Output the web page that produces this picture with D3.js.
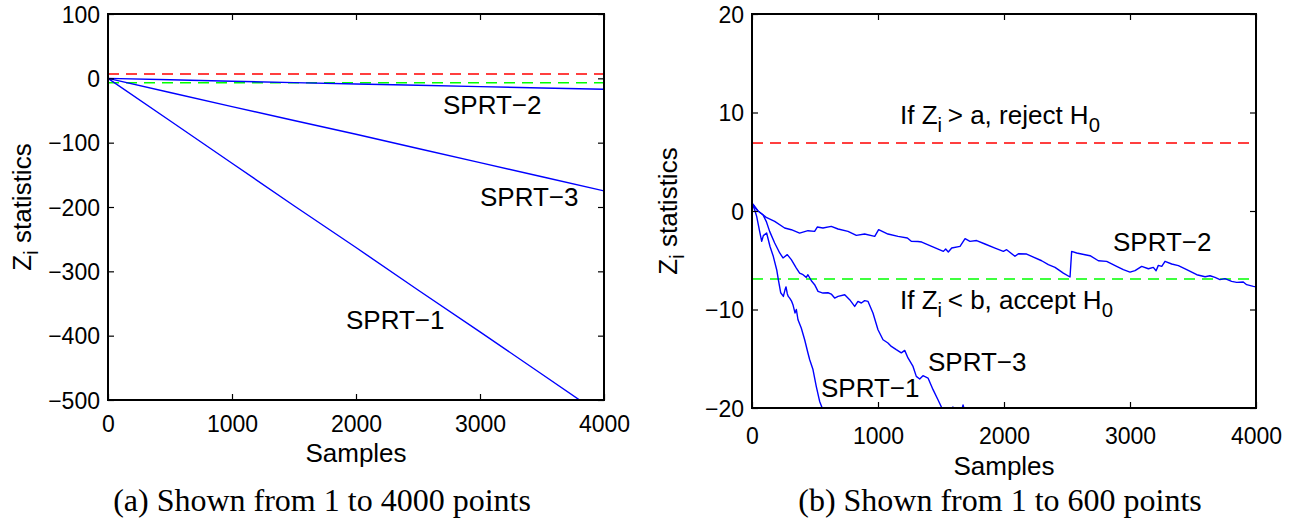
<!DOCTYPE html>
<html>
<head>
<meta charset="utf-8">
<script src="https://cdn.jsdelivr.net/npm/d3@7/dist/d3.min.js"></script>
<style>
  html, body { margin: 0; padding: 0; background: #fff; }
  svg { display: block; }
  text { font-family: "Liberation Sans", Arial, Helvetica, sans-serif; fill: #000; }
  .cap { font-family: "Liberation Serif", "Times New Roman", serif; }
</style>
</head>
<body>
<svg id="chart" width="1301" height="525"></svg>
<script>
// ---------------- data ----------------
const xTicks = [0, 1000, 2000, 3000, 4000];
const yTicksA = [100, 0, -100, -200, -300, -400, -500];
const yTicksB = [20, 10, 0, -10, -20];
const thresholdA = 6.9;   // a
const thresholdB = -6.9;  // b

// panel (a): 1..4000 points
const fullSamples = [0, 500, 1000, 1500, 2000, 2500, 3000, 3500, 4000];
const fullSPRT1 = [0, -66, -132, -198, -263, -329, -394, -460, -526];
const fullSPRT2 = [0, -2.3, -4.5, -6.6, -8.7, -10.8, -12.9, -15, -17];
const fullSPRT3 = [0, -22, -44, -65.5, -87, -109, -131, -153, -175];

// panel (b): zoomed view
const zoomSamples1 = [0,21,37,63,77,90,116,143,169,196,209,228,249,262,270,280,288,299,315,325,341,352,365,391,418,444,458,484,510,537,563,600];
const zoomSPRT1 = [0.8,0.13,-0.55,-2.23,-3.08,-2.5,-2.23,-3.6,-4.6,-5.96,-6.97,-8.3,-8.67,-8.0,-7.7,-8.4,-8.67,-8.84,-9.18,-9.51,-10.35,-10.0,-11.04,-11.88,-13.07,-14.42,-15.1,-16.1,-17.8,-19.33,-20.2,-21.5];

const zoomSamples2 = [0,20,48,113,180,259,312,378,444,497,518,563,629,683,762,828,894,974,1005,1079,1159,1233,1264,1317,1347,1426,1519,1537,1558,1585,1651,1691,1730,1783,1849,1929,1995,2021,2087,2114,2180,2220,2299,2352,2405,2471,2524,2537,2577,2643,2683,2749,2815,2894,2947,3000,3040,3093,3146,3185,3207,3225,3252,3278,3331,3384,3450,3530,3596,3635,3675,3714,3754,3807,3847,3899,3926,3979,4000];
const zoomSPRT2 = [0.8,0.5,0,-0.65,-1.05,-1.73,-1.9,-2.24,-2.0,-2.07,-1.63,-1.73,-1.56,-1.83,-2.07,-2.47,-2.34,-2.58,-1.9,-2.34,-2.58,-2.74,-3.08,-3.1,-3.15,-3.59,-4.1,-3.86,-4.17,-3.76,-3.59,-2.81,-3.08,-3.0,-3.35,-3.76,-4.1,-3.93,-4.6,-4.34,-4.37,-4.6,-5.05,-5.45,-5.72,-6.3,-6.7,-4.1,-4.26,-4.44,-4.54,-5.05,-5.11,-5.62,-5.96,-6.2,-6.06,-5.62,-5.86,-5.72,-6.06,-5.52,-5.62,-5.11,-5.38,-5.55,-5.96,-6.47,-6.67,-6.57,-6.74,-6.97,-6.87,-7.14,-7.25,-7.21,-7.48,-7.65,-7.7];

const zoomSamples3 = [0,20,48,87,113,140,180,220,246,280,312,352,378,405,431,444,471,497,524,563,603,629,656,683,736,775,815,841,868,894,921,960,1000,1040,1079,1106,1145,1185,1212,1238,1278,1304,1331,1357,1397,1437,1476,1516,1555,1595,1620,1660,1675,1700,1760];
const zoomSPRT3 = [0.8,0.4,0,-0.38,-1.05,-2.07,-3.25,-4.26,-4.77,-4.43,-4.94,-5.79,-6.3,-6.47,-6.74,-6.47,-7.08,-7.48,-8.16,-8.33,-8.3,-8.43,-8.84,-8.67,-8.5,-9.0,-9.69,-9.18,-9.34,-9.1,-9.18,-10.36,-12.05,-13.07,-13.4,-13.75,-14.08,-14.4,-14.15,-14.92,-15.78,-16.79,-17.06,-16.72,-16.96,-18.14,-19.16,-20.25,-20.6,-19.9,-20.5,-20.4,-19.7,-20.8,-21.6];

// ---------------- drawing ----------------
const svg = d3.select("#chart");
const blue = "#0000ff", red = "#ff0000", green = "#00ff00";
const defs = svg.append("defs");

function panel(cfg) {
  const x = d3.scaleLinear().domain([0, 4000]).range([cfg.x0, cfg.x1]);
  const y = d3.scaleLinear().domain(cfg.yDomain).range([cfg.yBot, cfg.yTop]);
  const g = svg.append("g");
  const clipId = "clip" + cfg.id;
  defs.append("clipPath").attr("id", clipId)
    .append("rect").attr("x", cfg.x0).attr("y", cfg.yTop)
    .attr("width", cfg.x1 - cfg.x0).attr("height", cfg.yBot - cfg.yTop);
  const plot = g.append("g").attr("clip-path", `url(#${clipId})`);

  // thresholds
  [[thresholdA, red], [thresholdB, green]].forEach(([v, c]) => {
    plot.append("line")
      .attr("x1", x(0)).attr("x2", x(4000)).attr("y1", y(v)).attr("y2", y(v))
      .attr("stroke", c).attr("stroke-width", 1.5).attr("stroke-dasharray", "11,7");
  });

  const line = d3.line().x(d => x(d[0])).y(d => y(d[1]));
  cfg.series.forEach(([xs, ys]) => {
    plot.append("path").datum(xs.map((s, i) => [s, ys[i]]))
      .attr("d", line).attr("fill", "none").attr("stroke", blue)
      .attr("stroke-width", 1.4).attr("stroke-linejoin", "round");
  });

  // axes (MATLAB style ticks inside, labels outside)
  const tl = 6;
  const fmt = d => (d < 0 ? "\u2212" + Math.abs(d) : String(d));
  const axB = d3.axisBottom(x).tickValues(xTicks).tickSize(-tl).tickPadding(cfg.xPad).tickFormat(d3.format("d"));
  const axT = d3.axisTop(x).tickValues(xTicks).tickSize(-tl).tickFormat("");
  const axL = d3.axisLeft(y).tickValues(cfg.yTicks).tickSize(-tl).tickPadding(8).tickFormat(fmt);
  const axR = d3.axisRight(y).tickValues(cfg.yTicks).tickSize(-tl).tickFormat("");

  const styleAxis = (sel, dy) => {
    sel.select(".domain").remove();
    sel.selectAll(".tick line").attr("stroke", "#000").attr("stroke-width", 1.2);
    sel.selectAll("text").style("font-family", '"Liberation Sans", Arial, sans-serif')
      .style("font-size", "23px").attr("fill", "#000").attr("dy", dy);
  };
  g.append("g").attr("transform", `translate(0,${cfg.yBot})`).call(axB).call(styleAxis, "0.75em");
  g.append("g").attr("transform", `translate(0,${cfg.yTop})`).call(axT).call(styleAxis, null);
  g.append("g").attr("transform", `translate(${cfg.x0},0)`).call(axL).call(styleAxis, "0.36em");
  g.append("g").attr("transform", `translate(${cfg.x1},0)`).call(axR).call(styleAxis, null);

  // box
  g.append("rect").attr("x", cfg.x0).attr("y", cfg.yTop)
    .attr("width", cfg.x1 - cfg.x0).attr("height", cfg.yBot - cfg.yTop)
    .attr("fill", "none").attr("stroke", "#000").attr("stroke-width", 2);

  // axis titles
  g.append("text").attr("x", (cfg.x0 + cfg.x1) / 2).attr("y", cfg.xTitleY)
    .attr("text-anchor", "middle").style("font-size", "26px").text("Samples");
  const yl = g.append("text")
    .attr("transform", `translate(${cfg.yTitleX},${(cfg.yTop + cfg.yBot) / 2}) rotate(-90)`)
    .attr("text-anchor", "middle").style("font-size", "26px");
  yl.append("tspan").text("Z");
  yl.append("tspan").attr("dy", 7).style("font-size", "20px").text("i");
  yl.append("tspan").attr("dy", -7).text(" statistics");

  // caption
  g.append("text").attr("class", "cap").attr("x", cfg.capX).attr("y", 511)
    .attr("text-anchor", "middle").style("font-size", "32px").text(cfg.caption);
  return { x, y, g };
}

const A = panel({
  id: "a", x0: 108, x1: 604, yTop: 14, yBot: 400, yDomain: [-500, 100], yTicks: yTicksA,
  series: [[fullSamples, fullSPRT1], [fullSamples, fullSPRT2], [fullSamples, fullSPRT3]],
  xPad: 15, xTitleY: 462, yTitleX: 31, capX: 322, caption: "(a) Shown from 1 to 4000 points"
});
const B = panel({
  id: "b", x0: 752, x1: 1256, yTop: 14, yBot: 408, yDomain: [-20, 20], yTicks: yTicksB,
  series: [[zoomSamples1, zoomSPRT1], [zoomSamples2, zoomSPRT2], [zoomSamples3, zoomSPRT3]],
  xPad: 19, xTitleY: 475, yTitleX: 677, capX: 1000, caption: "(b) Shown from 1 to 600 points"
});

// annotations
function label(g, xv, yv, parts, size) {
  const t = g.append("text").attr("x", xv).attr("y", yv).style("font-size", size + "px");
  parts.forEach(p => {
    if (typeof p === "string") t.append("tspan").attr("dy", 0).text(p);
    else t.append("tspan").attr("dy", p.dy).style("font-size", (size * 0.78) + "px").text(p.t);
  });
  return t;
}
label(A.g, 443, 114, ["SPRT\u22122"], 26);
label(A.g, 480, 206, ["SPRT\u22123"], 26);
label(A.g, 346, 329, ["SPRT\u22121"], 26);

label(B.g, 1113, 251, ["SPRT\u22122"], 26);
label(B.g, 928, 371, ["SPRT\u22123"], 26);
label(B.g, 821, 397, ["SPRT\u22121"], 26);
label(B.g, 900, 124, ["If Z", {t: "i", dy: 8}, {t: "\u00a0", dy: -8}, "> a, reject H", {t: "0", dy: 8}], 26);
label(B.g, 900, 309, ["If Z", {t: "i", dy: 8}, {t: "\u00a0", dy: -8}, "< b, accept H", {t: "0", dy: 8}], 26);
</script>
</body>
</html>
